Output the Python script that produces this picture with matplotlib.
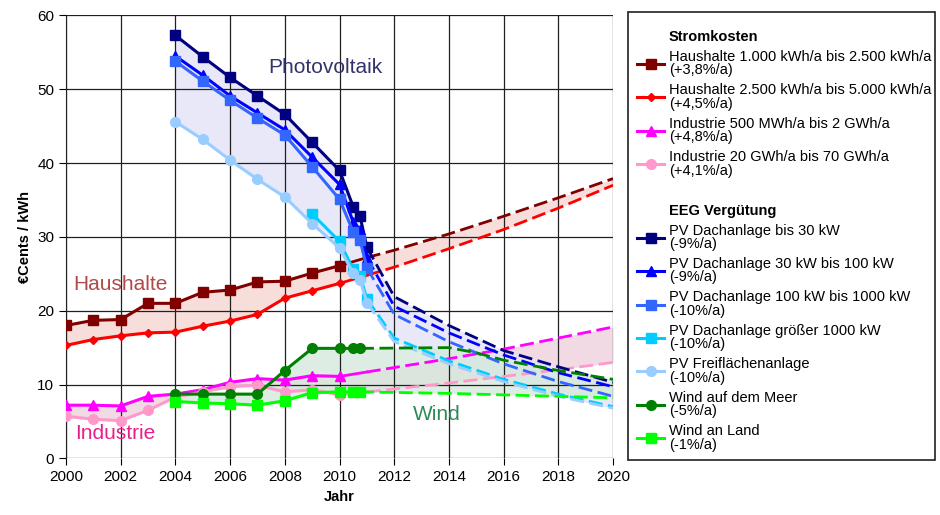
import matplotlib
matplotlib.use("Agg")
import matplotlib.pyplot as plt
from matplotlib.lines import Line2D
from matplotlib.patches import Rectangle

plt.rcParams['font.family'] = ['Liberation Sans', 'DejaVu Sans']

# ---- data ----
years_hist = [2000, 2001, 2002, 2003, 2004, 2005, 2006, 2007, 2008, 2009, 2010]
years_proj = [2010, 2011, 2012, 2014, 2016, 2018, 2020]

haus1 = [18.0, 18.7, 18.8, 21.0, 21.0, 22.5, 22.8, 23.9, 24.0, 25.1, 26.1]
haus1_proj = [26.1, 27.2, 28.2, 30.4, 32.8, 35.3, 37.9]
haus2 = [15.3, 16.1, 16.6, 17.0, 17.1, 17.9, 18.6, 19.5, 21.7, 22.7, 23.7]
haus2_proj = [23.7, 24.8, 25.9, 28.4, 31.0, 33.9, 37.0]
ind1 = [7.2, 7.2, 7.1, 8.4, 8.7, 9.3, 10.3, 10.8, 10.6, 11.2, 11.1]
ind1_proj = [11.1, 11.7, 12.3, 13.5, 14.8, 16.3, 17.8]
ind2 = [5.7, 5.3, 5.1, 6.5, 8.3, 9.0, 9.7, 9.9, 9.0, 9.3, 8.6]
ind2_proj = [8.6, 9.0, 9.4, 10.2, 11.1, 12.0, 13.0]

pv_years = [2004, 2005, 2006, 2007, 2008, 2009, 2010, 2010.5, 2010.75, 2011]
pv_proj_years = [2011, 2012, 2014, 2016, 2018, 2020]
pv30 = [57.3, 54.4, 51.6, 49.1, 46.6, 42.8, 39.0, 34.1, 32.8, 28.6]
pv30_proj = [28.6, 21.9, 18.0, 14.6, 12.4, 10.3]
pv100 = [54.5, 51.9, 49.1, 46.8, 44.5, 40.8, 37.1, 32.0, 31.0, 27.2]
pv100_proj = [27.2, 20.6, 17.0, 14.0, 11.6, 9.7]
pv1000 = [53.8, 51.1, 48.5, 46.1, 43.8, 39.5, 35.1, 30.7, 29.6, 25.8]
pv1000_proj = [25.8, 19.5, 15.8, 12.8, 10.4, 8.4]
pvgross_years = [2009, 2010, 2010.5, 2010.75, 2011]
pvgross = [33.1, 29.4, 25.6, 24.7, 21.6]
pvgross_proj = [21.6, 16.3, 13.2, 10.7, 8.7, 7.0]
pvfrei = [45.6, 43.2, 40.4, 37.8, 35.4, 31.8, 28.5, 25.1, 24.2, 21.1]
pvfrei_proj = [21.1, 15.8, 12.8, 10.4, 8.4, 6.8]

wind_years = [2004, 2005, 2006, 2007, 2008, 2009, 2010, 2010.5, 2010.75]
wind_proj_years = [2010.75, 2014, 2015, 2016, 2018, 2020]
wind_meer = [8.7, 8.7, 8.7, 8.7, 11.9, 14.9, 14.9, 14.9, 14.9]
wind_meer_proj = [14.9, 15.0, 14.3, 13.3, 11.9, 10.7]
wind_land = [7.7, 7.5, 7.4, 7.2, 7.8, 8.9, 9.0, 9.0, 9.0]
wind_land_proj = [9.0, 8.8, 8.7, 8.6, 8.4, 8.2]

fig = plt.figure(figsize=(9.4, 5.15), dpi=100)
ax = fig.add_axes([0.0702, 0.110, 0.582, 0.860])

# shaded bands
ax.fill_between(years_hist + years_proj[1:], haus1 + haus1_proj[1:], haus2 + haus2_proj[1:],
                color='#f8dedb', lw=0, zorder=1)
ax.fill_between(years_hist + years_proj[1:], ind1 + ind1_proj[1:], ind2 + ind2_proj[1:],
                color='#f0d6e2', lw=0, zorder=1, alpha=0.9)
ax.fill_between(pv_years + pv_proj_years[1:], pv30 + pv30_proj[1:], pvfrei + pvfrei_proj[1:],
                color='#e6e6f8', lw=0, zorder=1, alpha=0.9)
ax.fill_between(wind_years + wind_proj_years[1:], wind_meer + wind_meer_proj[1:],
                wind_land + wind_land_proj[1:], color='#d6e9dc', lw=0, zorder=1, alpha=0.8)

series = [
    # label, years, values, proj years, proj values, color, marker, ms, solid start of projection
    ("Haushalte 1.000 kWh/a bis 2.500 kWh/a\n(+3,8%/a)", years_hist, haus1, years_proj, haus1_proj, '#800000', 's', 7, 2),
    ("Haushalte 2.500 kWh/a bis 5.000 kWh/a\n(+4,5%/a)", years_hist, haus2, years_proj, haus2_proj, '#ff0000', 'D', 4.5, 2),
    ("Industrie 500 MWh/a bis 2 GWh/a\n(+4,8%/a)", years_hist, ind1, years_proj, ind1_proj, '#ff00ff', '^', 7, 2),
    ("Industrie 20 GWh/a bis 70 GWh/a\n(+4,1%/a)", years_hist, ind2, years_proj, ind2_proj, '#ff99cc', 'o', 7, 2),
    ("PV Dachanlage bis 30 kW\n(-9%/a)", pv_years, pv30, pv_proj_years, pv30_proj, '#000080', 's', 7, 1),
    ("PV Dachanlage 30 kW bis 100 kW\n(-9%/a)", pv_years, pv100, pv_proj_years, pv100_proj, '#0000ff', '^', 7, 1),
    ("PV Dachanlage 100 kW bis 1000 kW\n(-10%/a)", pv_years, pv1000, pv_proj_years, pv1000_proj, '#3366ff', 's', 7, 1),
    ("PV Dachanlage größer 1000 kW\n(-10%/a)", pvgross_years, pvgross, pv_proj_years, pvgross_proj, '#00ccff', 's', 7, 1),
    ("PV Freiflächenanlage\n(-10%/a)", pv_years, pvfrei, pv_proj_years, pvfrei_proj, '#99ccff', 'o', 7, 1),
    ("Wind auf dem Meer\n(-5%/a)", wind_years, wind_meer, wind_proj_years, wind_meer_proj, '#008000', 'o', 7, 1),
    ("Wind an Land\n(-1%/a)", wind_years, wind_land, wind_proj_years, wind_land_proj, '#00ff00', 's', 7, 1),
]

handles = {}
for lab, xs, ys, pxs, pys, col, mk, ms, k in series:
    if k > 1:
        ax.plot(pxs[:k], pys[:k], color=col, lw=2, zorder=2)
    ax.plot(pxs[k - 1:], pys[k - 1:], color=col, lw=2, dashes=(5, 2), zorder=2)
    h, = ax.plot(xs, ys, color=col, lw=2.2, marker=mk, ms=ms, mec=col, zorder=3)
    handles[lab] = h

# labels inside the plot
ax.text(2009.5, 52.9, "Photovoltaik", color='#33336b', fontsize=15, ha='center', va='center')
ax.text(2002.0, 23.5, "Haushalte", color='#b04a4a', fontsize=15, ha='center', va='center')
ax.text(2001.8, 3.4, "Industrie", color='#e8208c', fontsize=15, ha='center', va='center')
ax.text(2013.55, 5.9, "Wind", color='#2e8b57', fontsize=15, ha='center', va='center')

ax.set_xlim(2000, 2020)
ax.set_ylim(0, 60)
ax.set_xticks(range(2000, 2021, 2))
ax.set_yticks(range(0, 61, 10))
ax.tick_params(direction='out', length=5, labelsize=11)
ax.set_axisbelow('line')
ax.grid(True, color='#202020', lw=0.9)
for s in ['top', 'right', 'bottom']:
    ax.spines[s].set_visible(False)
ax.spines['left'].set_color('#202020')
ax.set_xlabel("Jahr", fontweight='bold', fontsize=10.5)
ax.set_ylabel("€Cents / kWh", fontweight='bold', fontsize=10.5)

# legend
blank = Line2D([], [], color='none')
labels = [s[0] for s in series]
leg_handles = [blank] + [handles[l] for l in labels[:4]] + [blank, blank] + [handles[l] for l in labels[4:]]
leg_labels = ["Stromkosten"] + labels[:4] + [" ", "EEG Vergütung"] + labels[4:]
leg = fig.legend(leg_handles, leg_labels, loc='upper left', bbox_to_anchor=(0.678, 0.942),
                 frameon=False, fontsize=10.5, handlelength=1.85, handletextpad=0.3,
                 borderpad=0, borderaxespad=0, labelspacing=0.41)
for t in leg.get_texts():
    t.set_linespacing(0.95)
    if t.get_text() in ("Stromkosten", "EEG Vergütung"):
        t.set_fontweight('bold')

fig.patches.append(Rectangle((0.668, 0.107), 0.327, 0.870, transform=fig.transFigure,
                             fill=False, edgecolor='#202020', lw=1.2))

plt.savefig("out.png", dpi=100)
